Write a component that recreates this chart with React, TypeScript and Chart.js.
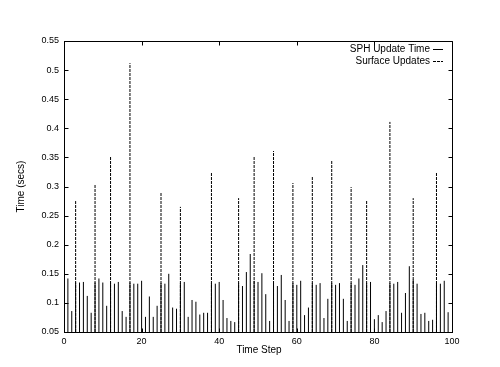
import React, { useEffect, useRef } from "react";
import { Chart, registerables } from "chart.js";

Chart.register(...registerables);

// Time steps 1..99 (x axis)
const FIRST_STEP = 1;
const SPH_UPDATE_TIME = [
  0.142, 0.086, 0.135, 0.135, 0.136, 0.112, 0.083, 0.135, 0.142, 0.135,
  0.095, 0.135, 0.133, 0.136, 0.086, 0.076, 0.135, 0.133, 0.133, 0.138,
  0.076, 0.111, 0.076, 0.095, 0.134, 0.133, 0.150, 0.092, 0.090, 0.134,
  0.136, 0.076, 0.105, 0.102, 0.080, 0.083, 0.083, 0.134, 0.133, 0.136,
  0.105, 0.074, 0.069, 0.067, 0.134, 0.129, 0.153, 0.184, 0.138, 0.136,
  0.151, 0.115, 0.069, 0.134, 0.129, 0.148, 0.105, 0.069, 0.134, 0.131,
  0.138, 0.079, 0.092, 0.134, 0.131, 0.134, 0.074, 0.107, 0.134, 0.131,
  0.134, 0.107, 0.069, 0.134, 0.131, 0.142, 0.165, 0.134, 0.136, 0.072,
  0.079, 0.067, 0.086, 0.134, 0.133, 0.136, 0.083, 0.117, 0.163, 0.140,
  0.133, 0.081, 0.083, 0.069, 0.071, 0.134, 0.133, 0.138, 0.084,
];
const SURFACE_STEPS = [3, 8, 12, 17, 25, 30, 38, 45, 49, 54, 59, 64, 69, 74, 78, 84, 90, 96];
const SURFACE_UPDATES = [
  0.275, 0.303, 0.351, 0.512, 0.290, 0.265, 0.324, 0.280, 0.351, 0.361,
  0.306, 0.317, 0.345, 0.299, 0.276, 0.411, 0.280, 0.324,
];
const X_MIN = 0;
const X_MAX = 100;
const X_STEP = 20;
const Y_MIN = 0.05;
const Y_MAX = 0.55;
const Y_STEP = 0.05;
const SERIES_NAMES = ["SPH Update Time", "Surface Updates"];
const X_TITLE = "Time Step";
const Y_TITLE = "Time (secs)";

const FONT = "Liberation Sans, Arial, Helvetica, sans-serif";

function impulses(xs: number[], ys: number[]) {
  const pts: { x: number; y: number | null }[] = [];
  ys.forEach((v, i) => {
    pts.push({ x: xs[i], y: Y_MIN }, { x: xs[i], y: v }, { x: xs[i], y: null });
  });
  return pts;
}

const gnuplotFrame = {
  id: "gnuplotFrame",
  afterDraw(chart: any) {
    const { ctx, chartArea: a, scales } = chart;
    const xs = scales.x;
    const ys = scales.y;
    const L = Math.round(a.left) + 0.5;
    const R = Math.round(a.right) + 0.5;
    const T = Math.round(a.top) + 0.5;
    const B = Math.round(a.bottom) + 0.5;
    const tl = 4;
    ctx.save();
    ctx.strokeStyle = "#000";
    ctx.lineWidth = 1;
    ctx.setLineDash([]);
    ctx.beginPath();
    ctx.rect(L, T, R - L, B - T);
    xs.ticks.forEach((t: any) => {
      const px = Math.round(xs.getPixelForValue(t.value)) + 0.5;
      ctx.moveTo(px, B);
      ctx.lineTo(px, B - tl);
      ctx.moveTo(px, T);
      ctx.lineTo(px, T + tl);
    });
    ys.ticks.forEach((t: any) => {
      const py = Math.round(ys.getPixelForValue(t.value)) + 0.5;
      ctx.moveTo(L, py);
      ctx.lineTo(L + tl, py);
      ctx.moveTo(R, py);
      ctx.lineTo(R - tl, py);
    });
    ctx.stroke();

    // axis titles
    ctx.fillStyle = "#000";
    ctx.font = `10px ${FONT}`;
    ctx.textAlign = "center";
    ctx.textBaseline = "middle";
    ctx.fillText(X_TITLE, (a.left + a.right) / 2 + 1, 350);
    ctx.save();
    ctx.translate(21, (a.top + a.bottom) / 2);
    ctx.rotate(-Math.PI / 2);
    ctx.fillText(Y_TITLE, 0, 0);
    ctx.restore();

    // legend (gnuplot style: text then sample on the right)
    const rows = [49, 61];
    chart.data.datasets.forEach((ds: any, i: number) => {
      const y = rows[i];
      ctx.textAlign = "right";
      ctx.fillText(SERIES_NAMES[i], 430, y);
      ctx.beginPath();
      ctx.setLineDash(ds.borderDash || []);
      ctx.moveTo(433, Math.round(y) + 0.5);
      ctx.lineTo(443, Math.round(y) + 0.5);
      ctx.stroke();
    });
    ctx.restore();
  },
};

export default function App() {
  const ref = useRef<HTMLCanvasElement | null>(null);
  useEffect(() => {
    document.body.style.margin = "0";
    const canvas = ref.current!;
    const steps = SPH_UPDATE_TIME.map((_, i) => FIRST_STEP + i);
    const chart = new Chart(canvas, {
      type: "line",
      data: {
        datasets: [
          {
            label: SERIES_NAMES[0],
            data: impulses(steps, SPH_UPDATE_TIME) as any,
            borderColor: "#000",
            borderWidth: 1,
            pointRadius: 0,
            spanGaps: false,
            tension: 0,
            fill: false,
          },
          {
            label: SERIES_NAMES[1],
            data: impulses(SURFACE_STEPS, SURFACE_UPDATES) as any,
            borderColor: "#000",
            borderWidth: 1,
            borderDash: [3, 1],
            pointRadius: 0,
            spanGaps: false,
            tension: 0,
            fill: false,
          },
        ],
      },
      options: {
        animation: false,
        responsive: false,
        devicePixelRatio: 1,
        layout: { padding: { top: 41, right: 48, left: 0, bottom: 0 } },
        plugins: { legend: { display: false }, tooltip: { enabled: false } },
        scales: {
          x: {
            type: "linear",
            min: X_MIN,
            max: X_MAX,
            grid: { drawOnChartArea: false, drawTicks: false },
            border: { display: true, color: "#000" },
            ticks: {
              stepSize: X_STEP,
              color: "#000",
              font: { family: FONT, size: 9 },
              padding: 4,
              maxRotation: 0,
            },
            afterFit: (s: any) => {
              s.height = 35;
            },
          },
          y: {
            type: "linear",
            min: Y_MIN,
            max: Y_MAX,
            grid: { drawOnChartArea: false, drawTicks: false },
            border: { display: true, color: "#000" },
            ticks: {
              stepSize: Y_STEP,
              color: "#000",
              font: { family: FONT, size: 9 },
              padding: 5,
              callback: (v: any) => String(Number(Number(v).toFixed(2))),
            },
            afterFit: (s: any) => {
              s.width = 64;
            },
          },
        },
      },
      plugins: [gnuplotFrame],
    });
    return () => chart.destroy();
  }, []);
  return (
    <div style={{ position: "fixed", left: 0, top: 0, width: 500, height: 367, background: "#fff" }}>
      <canvas ref={ref} width={500} height={367} style={{ width: 500, height: 367, display: "block" }} />
    </div>
  );
}
